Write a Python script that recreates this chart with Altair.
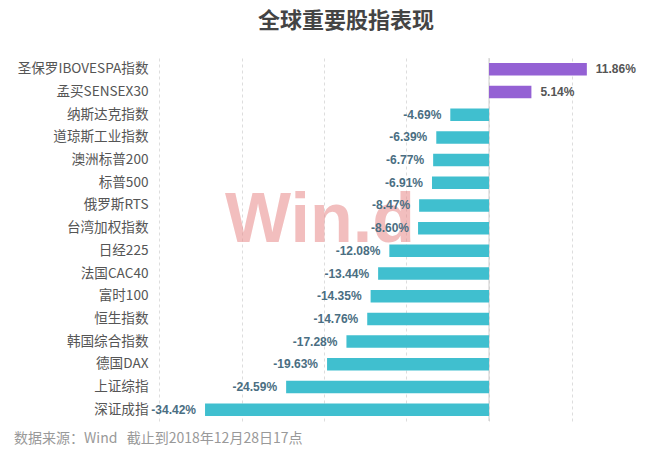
import altair as alt
import pandas as pd

names = ["圣保罗IBOVESPA指数", "孟买SENSEX30", "纳斯达克指数", "道琼斯工业指数",
         "澳洲标普200", "标普500", "俄罗斯RTS", "台湾加权指数", "日经225",
         "法国CAC40", "富时100", "恒生指数", "韩国综合指数", "德国DAX",
         "上证综指", "深证成指"]
values = [11.86, 5.14, -4.69, -6.39, -6.77, -6.91, -8.47, -8.60, -12.08,
          -13.44, -14.35, -14.76, -17.28, -19.63, -24.59, -34.42]
grid_ticks = [-40, -30, -20, -10, 0, 10]

title_text = "全球重要股指表现"
footer_text = "数据来源：Wind\u00a0\u00a0\u00a0截止到2018年12月28日17点"

df = pd.DataFrame({"name": names, "value": values})
df["label"] = [f"{v:.2f}%" for v in values]

CJK = "Noto Sans CJK SC"
W, H = 429, 363

xscale = alt.Scale(domain=[-40, 12], nice=False, zero=False)
yscale = alt.Scale(paddingInner=0.45, paddingOuter=0.225)

base = alt.Chart(df)

y_enc = alt.Y("name:N", sort=names, scale=yscale,
              axis=alt.Axis(title=None, ticks=False, domain=False, labelFontSize=13.6,
                            labelColor="#555555", labelFont=CJK, labelPadding=11,
                            labelLimit=300))

watermark = alt.Chart(pd.DataFrame({"t": ["Win.d"]})).mark_text(
    font="Liberation Sans", fontSize=70, fontWeight="bold", color="#e88a8a", opacity=0.55,
    align="center", baseline="alphabetic"
).encode(text="t:N", x=alt.value(161), y=alt.value(184))

bars = base.mark_bar().encode(
    x=alt.X("value:Q", scale=xscale,
            axis=alt.Axis(values=grid_ticks, labels=False, ticks=False, domain=False,
                          title=None, grid=True, gridDash=[3, 3], gridColor="#dddddd")),
    y=y_enc,
    color=alt.condition("datum.value > 0", alt.value("#9461d4"), alt.value("#40bfcf")),
)

zero = alt.Chart(pd.DataFrame({"z": [0]})).mark_rule(color="#cccccc", strokeWidth=1).encode(
    x=alt.X("z:Q", scale=xscale)
)

pos_labels = base.transform_filter("datum.value > 0").mark_text(
    align="left", dx=9, fontSize=12, fontWeight="bold", color="#555555",
    font="Liberation Sans"
).encode(x=alt.X("value:Q", scale=xscale), y=y_enc, text="label:N")

neg_labels = base.transform_filter("datum.value <= 0").mark_text(
    align="right", dx=-9, fontSize=12, fontWeight="bold", color="#4a6e82",
    font="Liberation Sans"
).encode(x=alt.X("value:Q", scale=xscale), y=y_enc, text="label:N")

title = alt.Chart(pd.DataFrame({"t": [title_text]})).mark_text(
    font=CJK, fontSize=22, fontWeight="bold", color="#444444", align="center",
    baseline="middle"
).encode(text="t:N", x=alt.value(187), y=alt.value(-37))

footer = alt.Chart(pd.DataFrame({"t": [footer_text]})).mark_text(
    font=CJK, fontSize=14, color="#999999", align="left", baseline="middle"
).encode(text="t:N", x=alt.value(-145), y=alt.value(381))

chart = alt.layer(watermark, zero, bars, pos_labels, neg_labels, title, footer).properties(
    width=W, height=H,
    autosize=alt.AutoSizeParams(type="none"),
    padding={"left": 151, "top": 50, "right": 50, "bottom": 25},
    background="white",
).configure_view(stroke=None)

chart.save("out.html", embed_options={"renderer": "svg", "actions": False})
